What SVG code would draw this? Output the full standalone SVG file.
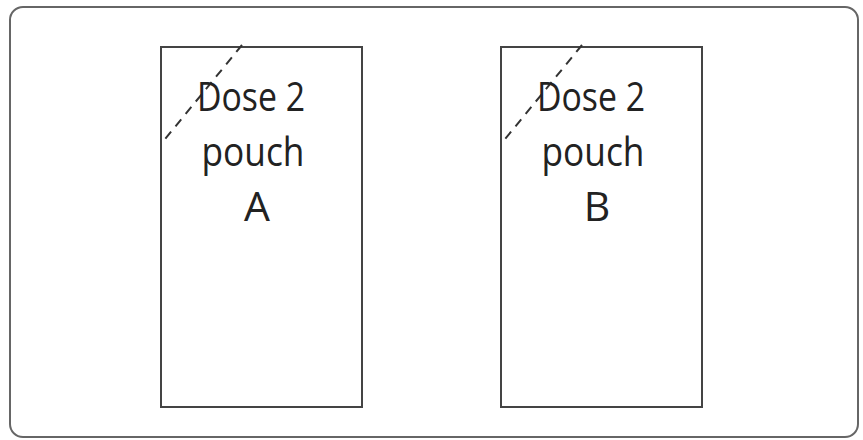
<svg xmlns="http://www.w3.org/2000/svg" width="863" height="440" viewBox="0 0 863 440">
<style>
.frame{fill:#fff;stroke:#666;stroke-width:2}
.pouch{fill:#fff;stroke:#444;stroke-width:2}
.cut{fill:none;stroke:#333;stroke-width:2;stroke-dasharray:9,7}
.lbl{font-family:"Open Sans","Noto Sans",sans-serif;font-size:41px;fill:#222;text-anchor:middle}
</style>
<rect width="863" height="440" fill="#fff"/>
<rect class="frame" x="10" y="7" width="848" height="430" rx="13"/>
<g id="pouchA">
<rect class="pouch" x="161" y="47" width="201" height="360"/>
<line class="cut" x1="242" y1="45" x2="161" y2="144"/>
<text class="lbl" x="251" y="111" textLength="108" lengthAdjust="spacingAndGlyphs">Dose 2</text>
<text class="lbl" x="253" y="166" textLength="103" lengthAdjust="spacingAndGlyphs">pouch</text>
<text class="lbl" x="257" y="221">A</text>
</g>
<g id="pouchB">
<rect class="pouch" x="501" y="47" width="201" height="360"/>
<line class="cut" x1="582" y1="45" x2="501" y2="144"/>
<text class="lbl" x="591" y="111" textLength="108" lengthAdjust="spacingAndGlyphs">Dose 2</text>
<text class="lbl" x="593" y="166" textLength="103" lengthAdjust="spacingAndGlyphs">pouch</text>
<text class="lbl" x="597" y="221">B</text>
</g>
<g id="connectors"></g>
</svg>
